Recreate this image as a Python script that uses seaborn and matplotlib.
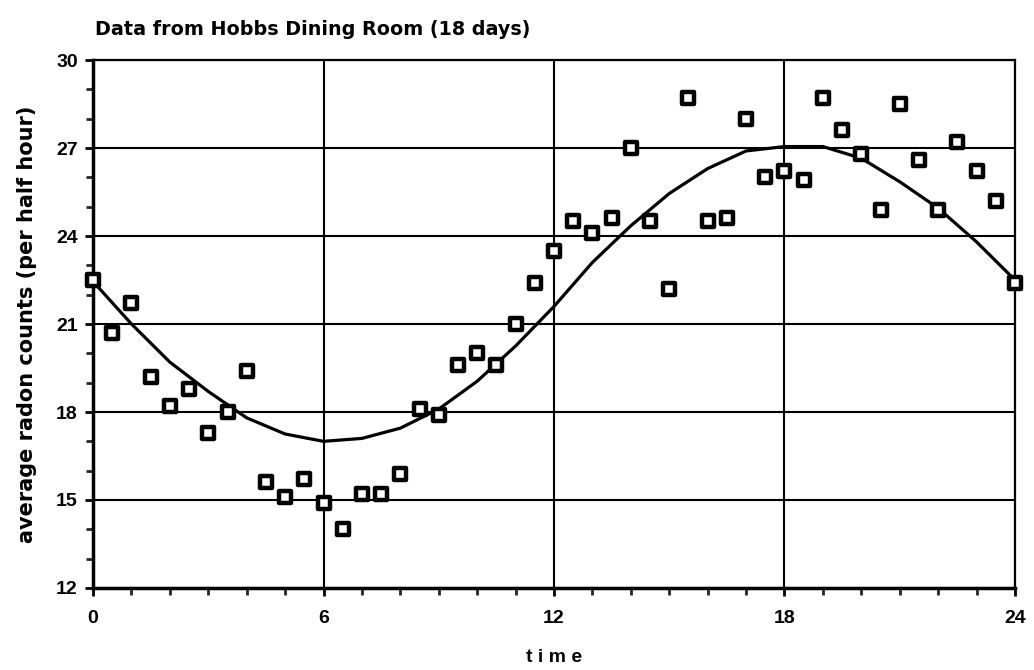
import numpy as np
import pandas as pd
import matplotlib.pyplot as plt
from matplotlib.ticker import MultipleLocator
import seaborn as sns

# half-hourly averages
time = [0, 0.5, 1, 1.5, 2, 2.5, 3, 3.5, 4, 4.5, 5, 5.5, 6, 6.5, 7, 7.5, 8, 8.5,
        9, 9.5, 10, 10.5, 11, 11.5, 12, 12.5, 13, 13.5, 14, 14.5, 15, 15.5, 16,
        16.5, 17, 17.5, 18, 18.5, 19, 19.5, 20, 20.5, 21, 21.5, 22, 22.5, 23,
        23.5, 24]
counts = [22.5, 20.7, 21.7, 19.2, 18.2, 18.8, 17.3, 18.0, 19.4, 15.6, 15.1, 15.7,
          14.9, 14.0, 15.2, 15.2, 15.9, 18.1, 17.9, 19.6, 20.0, 19.6, 21.0, 22.4,
          23.5, 24.5, 24.1, 24.6, 27.0, 24.5, 22.2, 28.7, 24.5, 24.6, 28.0, 26.0,
          26.2, 25.9, 28.7, 27.6, 26.8, 24.9, 28.5, 26.6, 24.9, 27.2, 26.2, 25.2,
          22.4]

# fitted curve, hourly
fit_time = list(range(25))
fit_counts = [22.45, 21.0, 19.7, 18.7, 17.8, 17.25, 17.0, 17.1, 17.45, 18.1, 19.05,
              20.25, 21.6, 23.1, 24.35, 25.45, 26.3, 26.9, 27.05, 27.05, 26.65,
              25.85, 24.95, 23.8, 22.5]

pts = pd.DataFrame({"time": time, "counts": counts})
fit = pd.DataFrame({"time": fit_time, "counts": fit_counts})

sns.set_theme(style="white")
plt.rcParams['font.family'] = ['Liberation Sans', 'DejaVu Sans']
plt.rcParams['font.weight'] = 'bold'
plt.rcParams['text.color'] = 'black'
plt.rcParams['axes.labelcolor'] = 'black'

fig = plt.figure(figsize=(10.34, 6.7), dpi=100)
ax = fig.add_axes([0.09, 0.1224, 0.8916, 0.788])

sns.lineplot(data=fit, x="time", y="counts", color="black", linewidth=2.3, ax=ax, zorder=3)
sns.scatterplot(data=pts, x="time", y="counts", marker="s", s=80, color="white",
                edgecolor="black", linewidth=3.2, ax=ax, zorder=4, clip_on=False)

ax.set_xlim(0, 24)
ax.set_ylim(12, 30)
ax.xaxis.set_major_locator(MultipleLocator(6))
ax.xaxis.set_minor_locator(MultipleLocator(1))
ax.yaxis.set_major_locator(MultipleLocator(3))
ax.yaxis.set_minor_locator(MultipleLocator(1))
ax.grid(True, which="major", color="black", linewidth=1.5)
ax.tick_params(which="major", direction="out", length=6, width=2, labelsize=14,
               colors="black", bottom=True, left=True, pad=5)
ax.tick_params(axis="x", which="major", pad=10)
ax.tick_params(which="minor", direction="out", length=5, width=2, bottom=True, left=True)
for s in ax.spines.values():
    s.set_color("black")
    s.set_linewidth(1.6)
ax.spines["left"].set_linewidth(2.5)
ax.spines["bottom"].set_linewidth(2.5)
for lbl in ax.get_xticklabels() + ax.get_yticklabels():
    lbl.set_fontweight("bold")

ax.set_xlabel("t i m e", fontsize=14, fontweight="bold", labelpad=16, color="black")
ax.set_ylabel("average radon counts (per half hour)", fontsize=15, color="black",
              fontweight="bold", labelpad=14, family=['DejaVu Sans'])
fig.text(0.092, 0.948, "Data from Hobbs Dining Room (18 days)", fontsize=13.8,
         fontweight="bold", ha="left", va="baseline", color="black",
         family=['DejaVu Sans'])

fig.savefig("out.png", dpi=100)
